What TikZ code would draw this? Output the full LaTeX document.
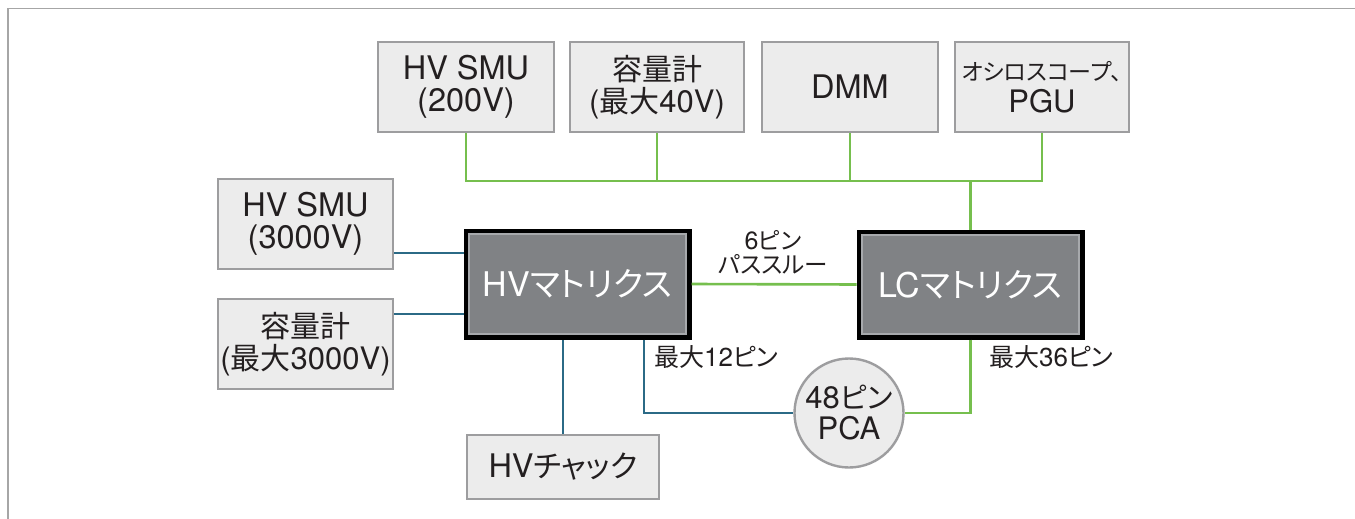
\documentclass[tikz,border=0pt]{standalone}
\usepackage{fontspec}
\setmainfont{TeX Gyre Heros}
\newfontfamily\jp[RawFeature=+palt]{Noto Sans CJK JP}
\usetikzlibrary{calc}
\definecolor{boxfill}{HTML}{ECECEC}
\definecolor{boxline}{HTML}{9D9D9F}
\definecolor{matfill}{HTML}{808285}
\definecolor{matinner}{HTML}{A7A9AC}
\definecolor{lcgreen}{HTML}{76BF4E}
\definecolor{hvblue}{HTML}{2B6A86}
\definecolor{txt}{HTML}{231F20}
\definecolor{frame}{HTML}{A6A6A6}
\newcommand{\fs}[1]{\fontsize{#1}{32}\selectfont}
\newcommand{\fsl}[1]{\fontsize{#1}{24}\selectfont}
\tikzset{
  devbox/.style={draw=boxline, fill=boxfill, line width=2.6pt, text=txt, align=center,
    inner sep=0pt, font=\fontsize{32.5}{32}\selectfont},
  matbox/.style={draw=black, fill=matfill, line width=5pt, text=white, inner sep=0pt,
    font=\fontsize{34}{36}\selectfont},
  pcacirc/.style={circle, draw=boxline, fill=boxfill, line width=2.4pt, text=txt,
    align=center, inner sep=0pt, minimum size=109pt, font=\fontsize{31}{31}\selectfont},
  lbl/.style={text=txt, inner sep=0pt, align=center, font=\fontsize{26}{24}\selectfont},
  gline/.style={draw=lcgreen, line width=2.6pt},
  bline/.style={draw=hvblue, line width=2.6pt},
}
\begin{document}
\begin{tikzpicture}[x=1pt,y=-1pt]
\useasboundingbox (0,0) rectangle (1355,519);
\fill[white] (0,0) rectangle (1355,519);
% frame
\draw[frame, line width=1.6pt] (8,519) -- (8,8.5) -- (1355,8.5);

% top instruments
\node[devbox, minimum width=176pt, minimum height=90pt] (smu200) at (466,87) {HV SMU\\(200V)};
\node[devbox, minimum width=174pt, minimum height=90pt, font=\fontsize{31}{32}\selectfont] (cap40) at (657,87) {{\jp\fs{30}容量計}\\({\jp\fs{30}最大}40V)};
\node[devbox, minimum width=176pt, minimum height=90pt] (dmm) at (850,87) {DMM};
\node[devbox, minimum width=174pt, minimum height=90pt, font=\fontsize{31}{32}\selectfont] (osc) at (1042,87) {{\jp\fs{23}オシロスコープ、}\\PGU};

% left instruments
\node[devbox, minimum width=175pt, minimum height=90pt] (smu3k) at (305.5,224) {HV SMU\\(3000V)};
\node[devbox, minimum width=175pt, minimum height=90pt, font=\fontsize{31}{32}\selectfont] (cap3k) at (305.5,344) {{\jp\fs{30}容量計}\\({\jp\fs{30}最大}3000V)};

% matrices
\node[matbox, minimum width=223pt, minimum height=106pt] (hv) at (577.5,284) {HV{\jp\fs{33.5}マトリクス}};
\node[matbox, minimum width=223pt, minimum height=105pt] (lc) at (970.5,284.5) {LC{\jp\fs{33.5}マトリクス}};
\draw[matinner, line width=1.2pt] ($(hv.north west)+(5.5,5.5)$) rectangle ($(hv.south east)+(-5.5,-5.5)$);
\draw[matinner, line width=1.2pt] ($(lc.north west)+(5.5,5.5)$) rectangle ($(lc.south east)+(-5.5,-5.5)$);

% chuck and PCA
\node[devbox, minimum width=192pt, minimum height=64pt, font=\fontsize{32.5}{34}\selectfont] (chuck) at (563,467) {HV{\jp\fs{30.5}チャック}};
\node[pcacirc] (pca) at (849,413) {48{\jp\fs{29}ピン}\\PCA};

% green bus
\coordinate (busy) at (0,181);
\draw[gline] (smu200.south) -- (smu200.south |- busy) -- (osc.south |- busy) -- (osc.south);
\draw[gline] (cap40.south) -- (cap40.south |- busy);
\draw[gline] (dmm.south) -- (dmm.south |- busy);
\draw[gline] (lc.north) -- (lc.north |- busy);

% matrix links
\draw[gline] (hv.east) -- (lc.west);
\draw[gline] (lc.south) |- (pca.east);
\draw[bline] (smu3k.east |- 0,253) -- (hv.west |- 0,253);
\draw[bline] (cap3k.east |- 0,314) -- (hv.west |- 0,314);
\draw[bline] (chuck.north) -- (chuck.north |- hv.south);
\draw[bline] (hv.south -| 644,0) |- (pca.west);

% labels
\node[lbl, font=\fontsize{25}{24}\selectfont] (pass) at (773,252) {6{\jp\fsl{23.5}ピン}\\{\jp\fsl{23.5}パススルー}};
\node[lbl, anchor=west] (max12) at (654,357) {{\jp\fsl{25}最大}12{\jp\fsl{25}ピン}};
\node[lbl, anchor=west] (max36) at (989,357) {{\jp\fsl{25}最大}36{\jp\fsl{25}ピン}};
\end{tikzpicture}
\end{document}
